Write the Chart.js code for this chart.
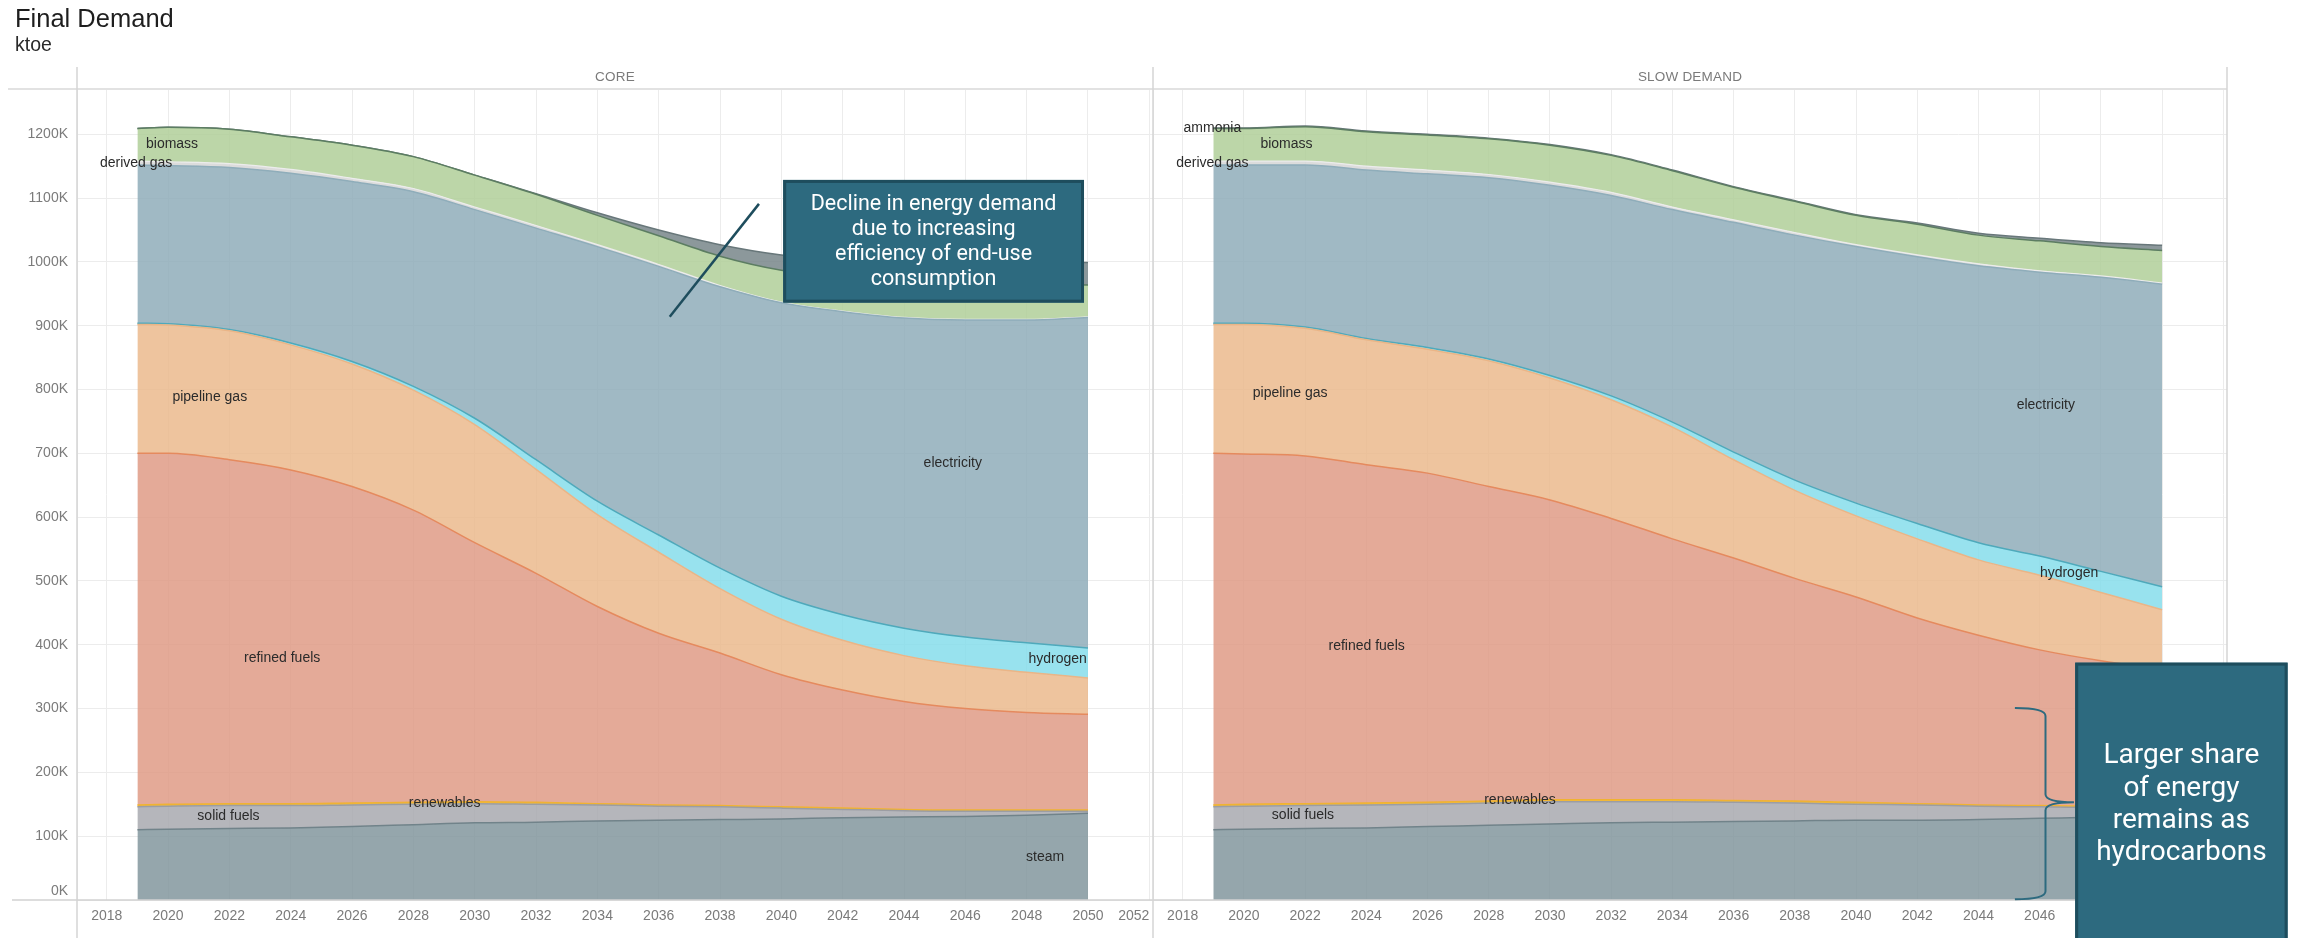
<!DOCTYPE html>
<html>
<head>
<meta charset="utf-8">
<title>Final Demand</title>
<script src="https://cdn.jsdelivr.net/npm/chart.js@4.4.1/dist/chart.umd.min.js"></script>
<style>
  html, body { margin: 0; padding: 0; background: #fff; }
  #wrap { position: relative; width: 2298px; height: 938px; overflow: hidden;
          font-family: "Liberation Sans", Arial, sans-serif; }
  #wrap canvas { position: absolute; left: 0; top: 0; }
  .title { position: absolute; left: 15px; top: 6px; font-size: 25.5px; line-height: 1; color: #1e1e1e; }
  .unit  { position: absolute; left: 15px; top: 35px; font-size: 19.5px; line-height: 1; color: #2a2a2a; }
  .panel-head { position: absolute; top: 70px; font-size: 13.5px; line-height: 1; color: #7a7a7a;
                transform: translateX(-50%); white-space: nowrap; letter-spacing: 0.2px; }
</style>
</head>
<body>
<div id="wrap">
  <canvas id="coreChart" width="2298" height="938"></canvas>
  <canvas id="slowChart" width="2298" height="938"></canvas>
  <div class="title">Final Demand</div>
  <div class="unit">ktoe</div>
  <div class="panel-head" style="left:615px">CORE</div>
  <div class="panel-head" style="left:1690px">SLOW DEMAND</div>
</div>
<script>
// ---- Final demand by energy carrier, thousands of ktoe (K) ----
const years = [2019, 2020, 2022, 2024, 2026, 2028, 2030, 2032, 2034, 2036, 2038, 2040, 2042, 2044, 2046, 2048, 2050];

const seriesNames = ['steam', 'solid fuels', 'renewables', 'refined fuels', 'pipeline gas',
                     'hydrogen', 'electricity', 'derived gas', 'biomass', 'ammonia'];

// CORE scenario
const coreSteam       = [110, 111, 112, 113, 115, 118, 121, 122, 124, 125, 126, 127, 129, 130, 131, 133, 136];
const coreSolidFuels  = [ 36,  36,  36,  35,  34,  32,  30,  28,  25,  22,  20,  17,  13,  10,   8,   6,   3];
const coreRenewables  = [  3,   3,   3,   3,   3,   3,   3,   3,   2,   2,   2,   2,   2,   2,   2,   2,   2];
const coreRefined     = [551, 550, 539, 523, 496, 458, 406, 359, 309, 269, 239, 207, 185, 169, 159, 153, 150];
const corePipelineGas = [202, 201, 202, 196, 192, 188, 185, 163, 144, 127, 101,  87,  78,  72,  67,  63,  57];
const coreHydrogen    = [  2,   2,   2,   3,   4,   6,  10,  15,  21,  27,  32,  36,  40,  43,  45,  46,  47];
const coreElectricity = [248, 248, 254, 266, 282, 305, 327, 363, 399, 421, 441, 460, 475, 486, 497, 506, 518];
const coreDerivedGas  = [  6,   6,   6,   6,   5,   5,   4,   4,   3,   3,   2,   1,   1,   1,   1,   1,   1];
const coreBiomass     = [ 51,  54,  54,  51,  52,  50,  50,  49,  46,  45,  46,  50,  53,  56,  56,  55,  50];
const coreAmmonia     = [  0,   0,   0,   0,   0,   0,   0,   1,   4,   9,  18,  24,  28,  31,  33,  34,  35];

// SLOW DEMAND scenario
const slowSteam       = [110, 111, 112, 113, 115, 117, 119, 121, 122, 123, 124, 125, 125, 126, 128, 130, 133];
const slowSolidFuels  = [ 36,  36,  36,  36,  35,  35,  35,  33,  32,  30,  28,  25,  24,  21,  18,  15,  11];
const slowRenewables  = [  3,   3,   3,   3,   3,   3,   3,   3,   3,   3,   3,   3,   2,   2,   2,   2,   2];
const slowRefined     = [551, 549, 545, 530, 516, 493, 470, 441, 409, 380, 349, 322, 291, 266, 244, 228, 216];
const slowPipelineGas = [202, 203, 200, 196, 194, 197, 191, 186, 175, 154, 138, 127, 124, 118, 117, 107,  93];
const slowHydrogen    = [  2,   2,   2,   2,   3,   3,   4,   6,   8,  12,  16,  20,  24,  27,  30,  33,  36];
const slowElectricity = [248, 248, 254, 264, 272, 284, 298, 314, 333, 360, 384, 402, 418, 434, 445, 461, 474];
const slowDerivedGas  = [  6,   6,   6,   6,   6,   5,   5,   5,   4,   4,   4,   3,   3,   3,   2,   2,   2];
const slowBiomass     = [ 51,  51,  54,  54,  55,  56,  58,  58,  57,  51,  49,  46,  48,  45,  47,  46,  51];
const slowAmmonia     = [  1,   1,   1,   1,   1,   1,   1,   1,   1,   1,   1,   1,   2,   3,   4,   6,   8];

// Axis ticks
const xTicks = [2018, 2020, 2022, 2024, 2026, 2028, 2030, 2032, 2034, 2036, 2038, 2040, 2042, 2044, 2046, 2048, 2050, 2052];
const yTicks = [0, 100, 200, 300, 400, 500, 600, 700, 800, 900, 1000, 1100, 1200];

// ---- styling ----
const FONT = '"Liberation Sans", Arial, sans-serif';
const fillColors = [
  'rgba(131,150,157,0.85)',  // steam
  'rgba(168,169,175,0.85)',  // solid fuels
  'rgba(240,179,30,0.85)',   // renewables
  'rgba(223,155,134,0.85)',  // refined fuels
  'rgba(235,186,141,0.85)',  // pipeline gas
  'rgba(134,221,235,0.85)',  // hydrogen
  'rgba(143,173,186,0.85)',  // electricity
  'rgba(214,214,214,0.85)',  // derived gas
  'rgba(176,207,153,0.85)',  // biomass
  'rgba(120,134,137,0.85)'   // ammonia
];
const lineColors = ['#71838a', '#9c9da3', '#f0b232', '#e58a5e', '#eab587',
                    '#4fa9bb', '#8fadba', '#ececec', '#5c7d62', '#68777a'];

// label anchors inside each panel (year, value)
const coreLabels = [
  { text: 'biomass',       x: 2020.13, y: 1184 },
  { text: 'derived gas',   x: 2018.96, y: 1155 },
  { text: 'pipeline gas',  x: 2021.36, y: 788 },
  { text: 'electricity',   x: 2045.59, y: 684 },
  { text: 'refined fuels', x: 2023.72, y: 379 },
  { text: 'hydrogen',      x: 2049.01, y: 377 },
  { text: 'renewables',    x: 2029.02, y: 152.5 },
  { text: 'solid fuels',   x: 2021.97, y: 132 },
  { text: 'steam',         x: 2048.60, y: 67 }
];
const slowLabels = [
  { text: 'ammonia',       x: 2018.97, y: 1210 },
  { text: 'biomass',       x: 2021.39, y: 1185 },
  { text: 'derived gas',   x: 2018.97, y: 1155 },
  { text: 'pipeline gas',  x: 2021.51, y: 793.6 },
  { text: 'electricity',   x: 2046.20, y: 776 },
  { text: 'hydrogen',      x: 2046.96, y: 513 },
  { text: 'refined fuels', x: 2024.01, y: 398.6 },
  { text: 'renewables',    x: 2029.02, y: 157 },
  { text: 'solid fuels',   x: 2021.93, y: 133 }
];

const X_MIN = 2017.03, X_MAX = 2052.12, Y_MAX = 1271;
const TEAL = '#2d6a7f', TEAL_DARK = '#1e4d5d';

function toPoints(values) {
  return years.map((yr, i) => ({ x: yr, y: values[i] }));
}

function buildDatasets(series) {
  return series.map((vals, i) => ({
    label: seriesNames[i],
    data: toPoints(vals),
    fill: i === 0 ? 'origin' : '-1',
    backgroundColor: fillColors[i],
    borderColor: lineColors[i],
    borderWidth: i === 7 ? 1.2 : 1.5,
    pointRadius: 0,
    pointHoverRadius: 0,
    cubicInterpolationMode: 'monotone'
  }));
}

// Panel frame: header rule, zero baseline and vertical panel borders
function drawFrame(ctx, area, opts) {
  ctx.save();
  ctx.strokeStyle = '#e2e2e2';
  ctx.lineWidth = 2;
  ctx.beginPath();
  ctx.moveTo(opts.ruleFrom, area.top);
  ctx.lineTo(area.right, area.top);
  ctx.stroke();

  ctx.strokeStyle = '#d2d2d2';
  ctx.lineWidth = 1.5;
  ctx.beginPath();
  ctx.moveTo(opts.baseFrom, area.bottom);
  ctx.lineTo(area.right, area.bottom);
  ctx.stroke();

  ctx.strokeStyle = '#d4d4d4';
  ctx.lineWidth = 1.5;
  opts.verticals.forEach(x => {
    ctx.beginPath();
    ctx.moveTo(x, area.top - 22);
    ctx.lineTo(x, 938);
    ctx.stroke();
  });
  ctx.restore();
}

function drawAreaLabels(chart, labels) {
  const { ctx, scales } = chart;
  ctx.save();
  ctx.font = '14px ' + FONT;
  ctx.fillStyle = '#2b2b2b';
  ctx.textAlign = 'center';
  ctx.textBaseline = 'middle';
  labels.forEach(l => {
    ctx.fillText(l.text, scales.x.getPixelForValue(l.x), scales.y.getPixelForValue(l.y));
  });
  ctx.restore();
}

function drawCalloutBox(ctx, x0, y0, x1, y1, lines, fontPx, lineGap, centerY) {
  ctx.save();
  ctx.fillStyle = TEAL;
  ctx.fillRect(x0, y0, x1 - x0, y1 - y0);
  ctx.strokeStyle = TEAL_DARK;
  ctx.lineWidth = 3;
  ctx.strokeRect(x0 + 1.5, y0 + 1.5, x1 - x0 - 3, y1 - y0 - 3);
  ctx.fillStyle = '#ffffff';
  ctx.font = fontPx + 'px Roboto, "Open Sans", sans-serif';
  ctx.textAlign = 'center';
  ctx.textBaseline = 'middle';
  const cx = (x0 + x1) / 2;
  const start = centerY - (lines.length - 1) * lineGap / 2;
  lines.forEach((t, i) => ctx.fillText(t, cx, start + i * lineGap));
  ctx.restore();
}

const framePluginCore = {
  id: 'frameCore',
  afterDatasetsDraw(chart) {
    const a = chart.chartArea;
    drawFrame(chart.ctx, a, { ruleFrom: 8, baseFrom: 12, verticals: [a.left] });
    drawAreaLabels(chart, coreLabels);
  },
  afterDraw(chart) {
    const { ctx, scales } = chart;
    const sx = scales.x, sy = scales.y;
    // leader line towards the upper edge of the stack
    ctx.save();
    ctx.strokeStyle = TEAL_DARK;
    ctx.lineWidth = 2.5;
    ctx.beginPath();
    ctx.moveTo(sx.getPixelForValue(2039.27), sy.getPixelForValue(1091));
    ctx.lineTo(sx.getPixelForValue(2036.36), sy.getPixelForValue(914));
    ctx.stroke();
    ctx.restore();
    const x0 = sx.getPixelForValue(2040.06), x1 = sx.getPixelForValue(2049.87);
    const y0 = sy.getPixelForValue(1128.5), y1 = sy.getPixelForValue(936.2);
    drawCalloutBox(ctx, x0, y0, x1, y1,
      ['Decline in energy demand', 'due to increasing', 'efficiency of end-use', 'consumption'],
      21.5, 25, (y0 + y1) / 2 + 1);
  }
};

const framePluginSlow = {
  id: 'frameSlow',
  afterDatasetsDraw(chart) {
    const a = chart.chartArea;
    drawFrame(chart.ctx, a, { ruleFrom: a.left, baseFrom: a.left, verticals: [a.left, a.right] });
    drawAreaLabels(chart, slowLabels);
  },
  afterDraw(chart) {
    const { ctx, scales } = chart;
    const sx = scales.x, sy = scales.y;
    // brace spanning the hydrocarbon share at the end of the horizon
    const xL = sx.getPixelForValue(2045.19), xM = sx.getPixelForValue(2046.19), xR = sx.getPixelForValue(2047.12);
    const yT = sy.getPixelForValue(301), yC = sy.getPixelForValue(153), yB = sy.getPixelForValue(1);
    const r = 8;
    ctx.save();
    ctx.strokeStyle = TEAL;
    ctx.lineWidth = 2;
    ctx.beginPath();
    ctx.moveTo(xL, yT);
    ctx.quadraticCurveTo(xM, yT, xM, yT + r);
    ctx.lineTo(xM, yC - r);
    ctx.quadraticCurveTo(xM, yC, xR, yC);
    ctx.quadraticCurveTo(xM, yC, xM, yC + r);
    ctx.lineTo(xM, yB - r);
    ctx.quadraticCurveTo(xM, yB, xL, yB);
    ctx.stroke();
    ctx.restore();
    const x0 = sx.getPixelForValue(2047.16), x1 = sx.getPixelForValue(2054.1);
    const y0 = sy.getPixelForValue(372);
    drawCalloutBox(ctx, x0, y0, x1, chart.height + 4,
      ['Larger share', 'of energy', 'remains as', 'hydrocarbons'],
      28, 32.3, sy.getPixelForValue(149));
  }
};

function baseOptions(padding, showYLabels, yWidth) {
  return {
    responsive: false,
    animation: false,
    devicePixelRatio: 1,
    events: [],
    layout: { padding },
    plugins: { legend: { display: false }, tooltip: { enabled: false } },
    scales: {
      x: {
        type: 'linear',
        min: X_MIN,
        max: X_MAX,
        // an unlabeled tick at the pane edge keeps the first year label centred,
        // while 'inner' alignment keeps the last year label inside the pane
        afterBuildTicks: s => { s.ticks = [X_MIN].concat(xTicks).map(v => ({ value: v })); },
        afterFit: s => { s.height = 38; },
        grid: { color: '#ececec', lineWidth: 1, drawTicks: false },
        border: { display: false },
        ticks: {
          autoSkip: false, maxRotation: 0, padding: 8, align: 'inner',
          color: '#7b7b7b', font: { family: FONT, size: 14 },
          callback: v => (v === X_MIN ? '' : String(v))
        }
      },
      y: {
        stacked: true,
        min: 0,
        max: Y_MAX,
        afterBuildTicks: s => { s.ticks = yTicks.map(v => ({ value: v })); },
        afterFit: s => { s.width = yWidth; },
        grid: { color: '#ececec', lineWidth: 1, drawTicks: false },
        border: { display: false },
        ticks: {
          display: showYLabels, padding: 9,
          color: '#7b7b7b', font: { family: FONT, size: 14 },
          callback: v => (v === 0 ? ['0K', ''] : v + 'K')
        }
      }
    }
  };
}

Chart.defaults.font.family = FONT;

new Chart(document.getElementById('coreChart'), {
  type: 'line',
  data: {
    datasets: buildDatasets([coreSteam, coreSolidFuels, coreRenewables, coreRefined, corePipelineGas,
                             coreHydrogen, coreElectricity, coreDerivedGas, coreBiomass, coreAmmonia])
  },
  options: baseOptions({ top: 89, left: 0, right: 1145, bottom: 0 }, true, 77),
  plugins: [framePluginCore]
});

new Chart(document.getElementById('slowChart'), {
  type: 'line',
  data: {
    datasets: buildDatasets([slowSteam, slowSolidFuels, slowRenewables, slowRefined, slowPipelineGas,
                             slowHydrogen, slowElectricity, slowDerivedGas, slowBiomass, slowAmmonia])
  },
  options: baseOptions({ top: 89, left: 1153, right: 71, bottom: 0 }, false, 0),
  plugins: [framePluginSlow]
});
</script>
</body>
</html>
